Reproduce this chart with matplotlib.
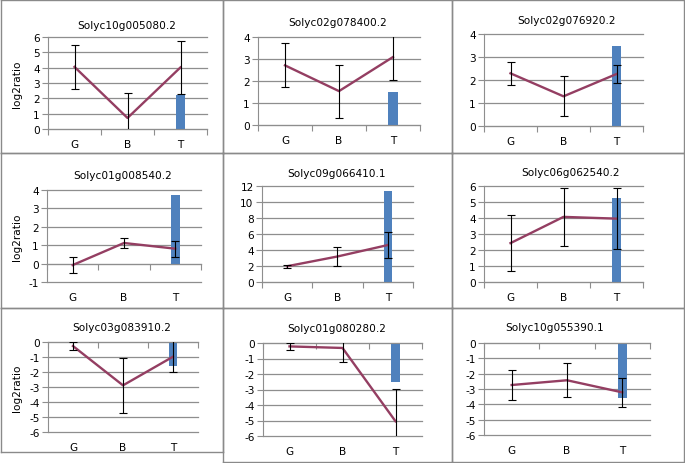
import matplotlib
matplotlib.use("Agg")
import matplotlib.pyplot as plt
from matplotlib.lines import Line2D
from matplotlib.ticker import FixedLocator, MultipleLocator

# ---------------- data ----------------
categories = ["G", "B", "T"]
genes = ["Solyc10g005080.2", "Solyc02g078400.2", "Solyc02g076920.2",
         "Solyc01g008540.2", "Solyc09g066410.1", "Solyc06g062540.2",
         "Solyc03g083910.2", "Solyc01g080280.2", "Solyc10g055390.1"]
line_vals = [[4.05, 0.72, 4.02],
             [2.71, 1.54, 3.09],
             [2.29, 1.29, 2.26],
             [-0.08, 1.12, 0.81],
             [1.97, 3.19, 4.62],
             [2.43, 4.07, 3.96],
             [-0.27, -2.89, -0.98],
             [-0.22, -0.32, -5.05],
             [-2.74, -2.43, -3.22]]
err_vals = [[1.42, 1.62, 1.75],
            [1.00, 1.20, 1.05],
            [0.50, 0.87, 0.41],
            [0.43, 0.27, 0.43],
            [0.21, 1.13, 1.62],
            [1.75, 1.83, 1.90],
            [0.29, 1.83, 1.04],
            [0.22, 0.92, 2.08],
            [1.00, 1.12, 0.93]]
bar_T = [2.25, 1.48, 3.49, 3.71, 11.41, 5.27, -1.60, -2.54, -3.61]
y_limits = [(0, 6), (0, 4), (0, 4), (-1, 4), (0, 12), (0, 6), (-6, 0), (-6, 0), (-6, 0)]
y_steps = [1, 1, 1, 1, 2, 1, 1, 1, 1]
show_ylabel = [True, False, False, True, False, False, True, False, False]

# ---------------- layout (pixels) ----------------
W, H = 685, 464
# x0, x1, y_top, y_bottom of each plot area
plot_px = [(48, 207, 38, 130), (258, 420, 38, 126), (484, 643, 35, 127),
           (47, 201, 191, 283), (262, 413, 187, 283), (484, 643, 187, 283),
           (48, 198, 343, 433), (263, 422, 344, 437), (484, 650, 344, 436)]
title_px = [(127, 26), (338, 23), (567, 21), (123, 176), (337, 174), (570, 173),
            (122, 328), (337, 329), (555, 328)]
frame_px = [(1, 1, 223, 154), (223, 1, 452, 154), (452, 1, 684, 154),
            (1, 154, 223, 309), (223, 154, 452, 309), (452, 154, 684, 309),
            (1, 309, 223, 453), (223, 309, 452, 463), (452, 309, 684, 463)]

LINE_C = "#943E62"
BAR_C = "#4F81BD"
GRID_C = "#8E8E8E"
AXIS_C = "#8E8E8E"
FS = 7.6

plt.rcParams["font.family"] = ["DejaVu Sans"]
plt.rcParams["axes.unicode_minus"] = False
fig = plt.figure(figsize=(W / 100, H / 100), dpi=100)
fig.patch.set_facecolor("white")

# panel frames
for (x0, y0, x1, y1) in frame_px:
    for (xa, ya, xb, yb) in [(x0, y0, x1, y0), (x1, y0, x1, y1), (x0, y1, x1, y1), (x0, y0, x0, y1)]:
        fig.add_artist(Line2D([xa / W, xb / W], [1 - ya / H, 1 - yb / H],
                              color="#8A8A8A", lw=1.0, transform=fig.transFigure))

xs = list(range(len(categories)))
for i in range(9):
    x0, x1, yt, yb = plot_px[i]
    ax = fig.add_axes([x0 / W, 1 - yb / H, (x1 - x0) / W, (yb - yt) / H])
    ax.set_xlim(-0.5, 2.5)
    ax.set_ylim(*y_limits[i])
    ax.yaxis.set_major_locator(MultipleLocator(y_steps[i]))
    ax.set_axisbelow(True)
    ax.grid(axis="y", color=GRID_C, lw=0.9)
    ax.grid(axis="x", visible=False)

    ax.bar(2, bar_T[i], width=0.17, color=BAR_C, zorder=2)
    ax.plot(xs, line_vals[i], color=LINE_C, lw=1.7, zorder=3)
    ax.errorbar(xs, line_vals[i], yerr=err_vals[i], fmt="none", ecolor="black",
                elinewidth=0.8, capsize=3, capthick=0.8, zorder=4)

    for s in ["right", "bottom"]:
        ax.spines[s].set_visible(False)
    ax.spines["top"].set_position(("data", 0))
    ax.spines["top"].set_color(AXIS_C)
    ax.spines["left"].set_color(AXIS_C)
    ax.set_xticks(xs)
    ax.set_xticklabels(categories)
    ax.xaxis.set_minor_locator(FixedLocator([-0.5, 0.5, 1.5, 2.5]))
    ax.tick_params(axis="x", which="major", bottom=True, top=False, length=0,
                   labelbottom=True, labeltop=False, pad=7, labelsize=FS)
    ax.tick_params(axis="x", which="minor", bottom=False, top=True, direction="in",
                   length=4, color=AXIS_C, width=0.8)
    ax.tick_params(axis="y", which="major", left=True, direction="out", length=4,
                   color=AXIS_C, width=0.8, labelsize=FS, pad=2)
    ax.set_facecolor("none")
    for gl in ax.get_ygridlines():
        gl.set_clip_on(False)

    if show_ylabel[i]:
        fig.text(17 / W, 1 - ((yt + yb) / 2) / H, "log2ratio", rotation=90,
                 ha="center", va="center", fontsize=FS)
    tx, ty = title_px[i]
    fig.text(tx / W, 1 - ty / H, genes[i], ha="center", va="center", fontsize=FS)

fig.savefig("out.png", dpi=100, facecolor="white")
